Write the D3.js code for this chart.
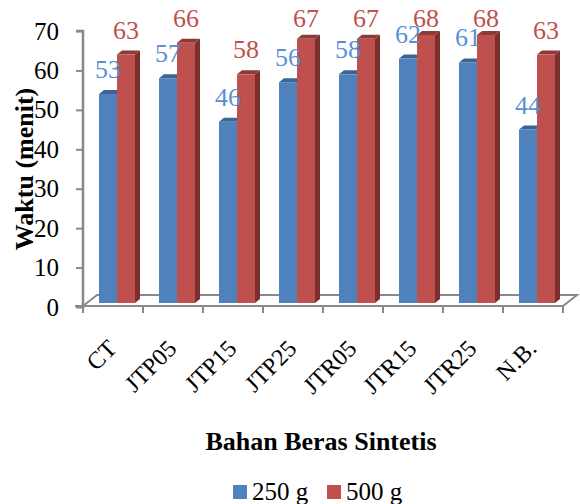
<!DOCTYPE html>
<html><head><meta charset="utf-8">
<script src="https://cdn.jsdelivr.net/npm/d3@7"></script>
<style>html,body{margin:0;padding:0;background:#fff;}svg{display:block;}</style>
</head><body>
<script>
const categories = ["CT","JTP05","JTP15","JTP25","JTR05","JTR15","JTR25","N.B."];
const seriesNames = ["250 g","500 g"];
const values250 = [53,57,46,56,58,62,61,44];
const values500 = [63,66,58,67,67,68,68,63];
const yTicks = [0,10,20,30,40,50,60,70];
const xTitle = "Bahan Beras Sintetis";
const yTitle = "Waktu (menit)";

const W = 580, H = 504;
const font = "'Liberation Serif','Times New Roman',serif";
const front = ["#4f81bd","#c0504d"];
const topC = ["#3b6596","#8c3a38"];
const sideC = ["#3a5f8c","#7b302e"];
const labelC = ["#5a8fd6","#c0504d"];
const axisC = "#898989";

const svg = d3.select("body").append("svg").attr("width",W).attr("height",H);

const x0 = d3.scaleBand().domain(categories).range([83,563]).paddingInner(0).paddingOuter(0);
const x1 = d3.scaleBand().domain(seriesNames).range([16,52]);
const y = d3.scaleLinear().domain([0,70]).range([307,31]);
const dx = 5, dy = -4, off = -4;

// floor
const floorBack = 295, floorFront = 306;
const fl = svg.append("g").attr("stroke",axisC).attr("stroke-width",2).attr("fill","none");
fl.append("path").attr("d",`M75,${floorFront}H563L577,${floorBack}H97L83,${floorFront}`);

// y axis
const yAxis = d3.axisLeft(y).tickValues(yTicks).tickSize(7).tickPadding(17);
const gy = svg.append("g").attr("transform","translate(83,0)").call(yAxis);
gy.attr("font-family",font);
gy.select(".domain").attr("stroke",axisC).attr("stroke-width",2.5).attr("d",`M-7,31H0V309`);
gy.selectAll(".tick line").attr("stroke",axisC).attr("stroke-width",2);
gy.selectAll(".tick text").attr("font-family",font).attr("font-size",25).attr("fill","#000");

// x ticks
const xt = d3.range(categories.length+1).map(i => 83 + i*x0.bandwidth());
svg.append("g").selectAll("line").data(xt).join("line")
  .attr("x1",d=>d).attr("x2",d=>d).attr("y1",floorFront).attr("y2",313)
  .attr("stroke",axisC).attr("stroke-width",2);

// bars
const data = categories.map((c,i)=>({cat:c, vals:[values250[i],values500[i]]}));
const bars = [];
data.forEach(d=>{ d.vals.forEach((v,s)=>bars.push({cat:d.cat, s, v})); });
const bw = x1.bandwidth();
const bg = svg.append("g");
bars.forEach(b=>{
  const xl = x0(b.cat) + x1(seriesNames[b.s]);
  const yt = y(b.v) + off, yb = y(0) + off;
  const g = bg.append("g");
  g.append("path").attr("fill",sideC[b.s])
    .attr("d",`M${xl+bw},${yt}L${xl+bw+dx},${yt+dy}V${yb+dy}L${xl+bw},${yb}Z`);
  g.append("path").attr("fill",topC[b.s])
    .attr("d",`M${xl},${yt}L${xl+dx},${yt+dy}H${xl+bw+dx}L${xl+bw},${yt}Z`);
  g.append("rect").attr("x",xl).attr("y",yt).attr("width",bw).attr("height",yb-yt).attr("fill",front[b.s]);
});
// labels
svg.append("g").attr("font-family",font).selectAll("text").data(bars).join("text")
  .attr("x",b=>x0(b.cat)+x1(seriesNames[b.s])+bw/2)
  .attr("y",b=>Math.max(y(b.v)+off-16, 27))
  .attr("text-anchor","middle").attr("font-family",font).attr("font-size",26)
  .attr("fill",b=>labelC[b.s]).text(b=>b.v);

// category labels
svg.append("g").attr("font-family",font).selectAll("text").data(categories).join("text")
  .attr("transform",c=>`translate(${x0(c)+x0.bandwidth()/2+5},350) rotate(-45)`)
  .attr("text-anchor","end").attr("font-family",font).attr("font-size",24).attr("fill","#000").text(c=>c);

// titles
svg.append("text").attr("x",321).attr("y",450).attr("text-anchor","middle")
  .attr("font-family",font).attr("font-weight","bold").attr("font-size",26).text(xTitle);
svg.append("text").attr("transform","translate(33,169) rotate(-90)").attr("text-anchor","middle")
  .attr("font-family",font).attr("font-weight","bold").attr("font-size",26).text(yTitle);

// legend
const legX = [233,327];
const lg = svg.append("g");
seriesNames.forEach((n,i)=>{
  lg.append("rect").attr("x",legX[i]).attr("y",485).attr("width",14).attr("height",14).attr("fill",front[i]);
  lg.append("text").attr("x",legX[i]+19).attr("y",500).attr("font-family",font).attr("font-size",25).text(n);
});
</script>
</body></html>
